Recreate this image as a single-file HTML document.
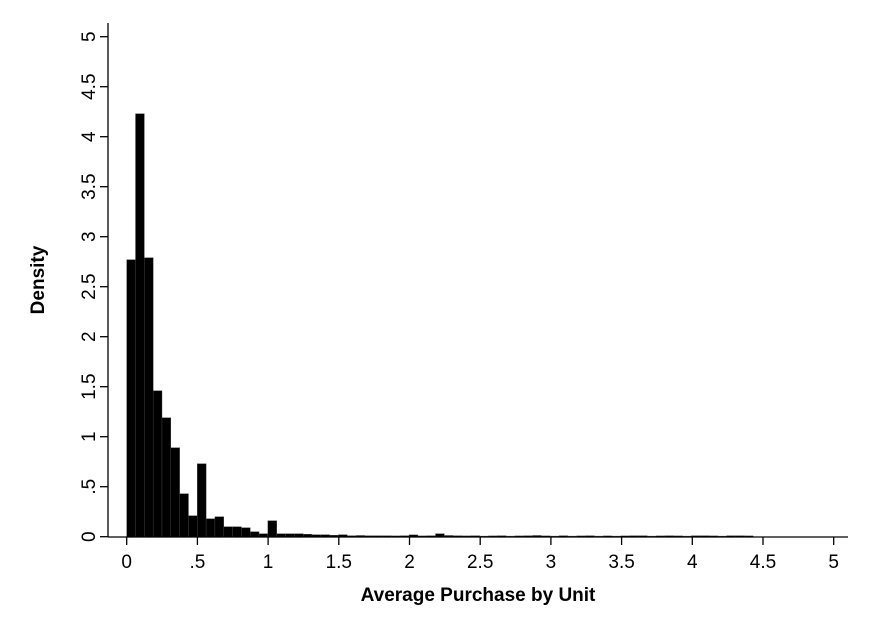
<!DOCTYPE html>
<html><head><meta charset="utf-8"><style>
body{margin:0;background:#fff}
svg{display:block;font-family:"Liberation Sans",Arial,sans-serif}
</style></head><body>
<svg id="chart" width="871" height="633">
<rect width="871" height="633" fill="#fff"/>
<g id="bars"></g>
<g id="axes"></g>
<text x="478" y="601" text-anchor="middle" font-size="19" font-weight="bold">Average Purchase by Unit</text>
<text transform="translate(44,280) rotate(-90)" text-anchor="middle" font-size="19" font-weight="bold">Density</text>
</svg>
<script>
const binWidth = 0.0624;
const densities = [2.77,4.23,2.79,1.46,1.19,0.89,0.43,0.21,0.73,0.18,0.20,0.10,0.10,0.09,0.05,0.03,0.16,0.03,0.03,
0.03,0.025,0.02,0.02,0.015,0.02,0.01,0.012,0.01,0.01,0.01,0.008,0.01,0.018,0.008,0.01,0.03,0.012,0.01,0.008,0.01,
0.006,0.008,0.01,0.006,0.008,0.01,0.012,0.008,0.006,0.01,0.006,0.008,0.01,0.006,0.008,0.006,0.008,0.01,0.01,0.006,
0.008,0.01,0.008,0.006,0.01,0.01,0.008,0.006,0.01,0.01,0.008];
const xTicks = [0,0.5,1,1.5,2,2.5,3,3.5,4,4.5,5];
const xTickLabels = ["0",".5","1","1.5","2","2.5","3","3.5","4","4.5","5"];
const yTicks = [0,0.5,1,1.5,2,2.5,3,3.5,4,4.5,5];
const yTickLabels = ["0",".5","1","1.5","2","2.5","3","3.5","4","4.5","5"];

const X = v => 126.7 + v*141.4;
const Y = v => 536.7 - v*100;
const NS = "http://www.w3.org/2000/svg";
const bars = document.getElementById('bars');
densities.forEach((d,i)=>{
  const r = document.createElementNS(NS,'rect');
  const x0 = X(i*binWidth), x1 = X((i+1)*binWidth);
  r.setAttribute('x', x0); r.setAttribute('width', x1-x0);
  r.setAttribute('y', Y(d)); r.setAttribute('height', Math.max(Y(0)-Y(d),0.8));
  r.setAttribute('fill','#000'); r.setAttribute('stroke','#444'); r.setAttribute('stroke-width','0.4');
  
  
  bars.appendChild(r);
});
const axes = document.getElementById('axes');
function line(x1,y1,x2,y2,name){
  const l=document.createElementNS(NS,'line');
  l.setAttribute('x1',x1);l.setAttribute('y1',y1);l.setAttribute('x2',x2);l.setAttribute('y2',y2);
  l.setAttribute('stroke','#000');l.setAttribute('stroke-width','1.3');
  
  
  axes.appendChild(l);
}
line(108,23,108,537,'y-axis-line');
line(108,537,848,537,'x-axis-line');
xTicks.forEach((t,i)=>{
  line(X(t),537,X(t),545,'x-tick');
  const tx=document.createElementNS(NS,'text');
  tx.setAttribute('x',X(t));tx.setAttribute('y',568);tx.setAttribute('text-anchor','middle');tx.setAttribute('font-size','19');
  tx.textContent=xTickLabels[i];
  
  
  axes.appendChild(tx);
});
yTicks.forEach((t,i)=>{
  line(100,Y(t),108,Y(t),'y-tick');
  const tx=document.createElementNS(NS,'text');
  tx.setAttribute('transform','translate(95,'+Y(t)+') rotate(-90)');
  tx.setAttribute('text-anchor','middle');tx.setAttribute('font-size','19');
  tx.textContent=yTickLabels[i];
  
  
  axes.appendChild(tx);
});
</script>
</body></html>
